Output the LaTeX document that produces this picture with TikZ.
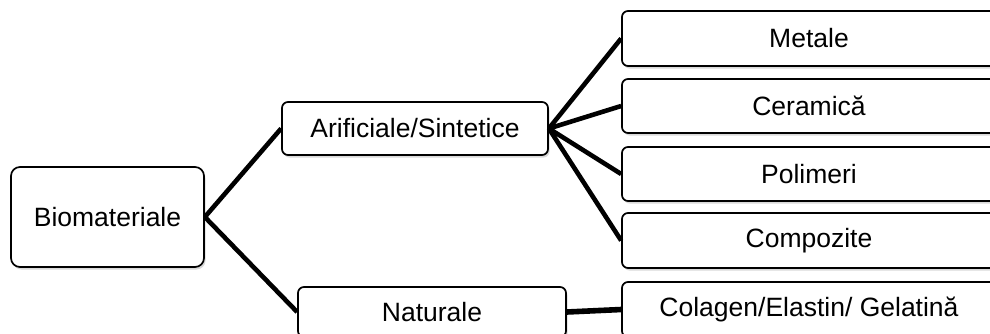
\documentclass[tikz,border=0pt]{standalone}
\usepackage{fontspec}
\setmainfont{Liberation Sans}
\usetikzlibrary{shadows}
\begin{document}
\begin{tikzpicture}[x=1pt,y=-1pt,
  box/.style={draw=black, line width=1.7pt, rounded corners=6pt, fill=white,
    inner sep=0pt, align=center, font=\fontsize{26.5}{30}\selectfont,
    drop shadow={shadow xshift=1.5pt, shadow yshift=-2.5pt, opacity=0.3, fill=gray}},
  link/.style={line width=4.6pt, black},
  thick link/.style={line width=5.6pt, black}]
\useasboundingbox (0,0) rectangle (990,333);
\node[box, minimum width=193pt, minimum height=100pt, rounded corners=9pt] (bio) at (107.5,217) {Biomateriale};
\node[box, minimum width=266pt, minimum height=53pt] (art) at (415,128.5) {Arificiale/Sintetice};
\node[box, minimum width=268pt, minimum height=50pt] (nat) at (432,312) {Naturale};
\node[box, minimum width=374pt, minimum height=55pt] (met) at (809,38.5) {Metale};
\node[box, minimum width=374pt, minimum height=54pt] (cer) at (809,106) {Ceramică};
\node[box, minimum width=374pt, minimum height=54pt] (pol) at (809,174) {Polimeri};
\node[box, minimum width=374pt, minimum height=55pt] (com) at (809,240.5) {Compozite};
\node[box, minimum width=374pt, minimum height=55pt] (col) at (809,309.5) {Colagen/Elastin/ Gelatină};
\draw[link] (bio.east) -- (art.west);
\draw[link] (bio.east) -- (nat.west);
\draw[link] (art.east) -- (met.west);
\draw[link] (art.east) -- (cer.west);
\draw[link] (art.east) -- (pol.west);
\draw[link] (art.east) -- (com.west);
\draw[thick link] (nat.east) -- (col.west);
\end{tikzpicture}
\end{document}
